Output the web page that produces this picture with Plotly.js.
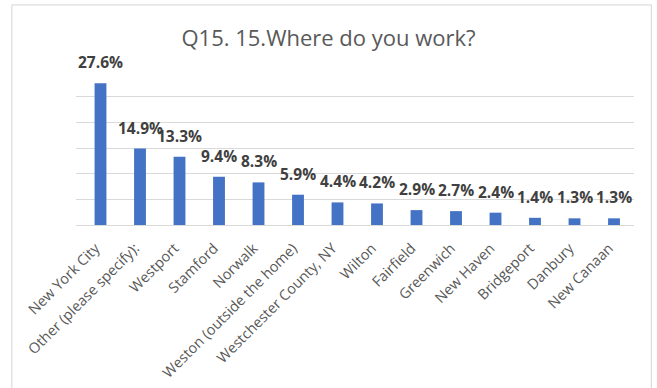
<!DOCTYPE html>
<html>
<head>
<meta charset="utf-8">
<script src="https://cdn.plot.ly/plotly-3.0.1.min.js"></script>
<style>html,body{margin:0;padding:0;background:#fff;}#chart{width:657px;height:388px;}</style>
</head>
<body>
<div id="chart"></div>
<script>
const categories = ["New York City", "Other (please specify):", "Westport", "Stamford", "Norwalk",
  "Weston (outside the home)", "Westchester County, NY", "Wilton", "Fairfield", "Greenwich",
  "New Haven", "Bridgeport", "Danbury", "New Canaan"];
const shares = [0.276, 0.149, 0.133, 0.094, 0.083, 0.059, 0.044, 0.042, 0.029, 0.027, 0.024, 0.014, 0.013, 0.013];
const chartTitle = "Q15. 15.Where do you work?";

const font = "Open Sans, Noto Sans, sans-serif";
const trace = {
  type: "bar",
  x: categories,
  y: shares,
  marker: {color: "#4472C4"},
  width: 0.3,
  hoverinfo: "skip"
};
const labels = categories.map((c, i) => ({
  x: c, y: shares[i], xref: "x", yref: "y",
  text: (shares[i] * 100).toFixed(1) + "%",
  showarrow: false, xanchor: "center", yanchor: "bottom", yshift: 8,
  font: {family: font, size: 15.5, color: "#404040", weight: "bold"}
}));
const layout = {
  width: 657, height: 388,
  margin: {l: 76, r: 23, t: 71, b: 163},
  paper_bgcolor: "#fff", plot_bgcolor: "#fff",
  title: {text: chartTitle, x: 0.5, xanchor: "center", y: 0.902, yanchor: "middle",
          font: {family: font, size: 22, color: "#595959"}},
  showlegend: false,
  xaxis: {tickangle: -45, tickfont: {family: font, size: 14.5, color: "#595959"},
          showgrid: false, showline: false, ticks: "", ticklabelstandoff: 11, ticklabelshift: -5,
          automargin: false, fixedrange: true},
  yaxis: {range: [0, 0.30], dtick: 0.05, showticklabels: false, showgrid: true,
          gridcolor: "#D9D9D9", gridwidth: 1, zeroline: true, zerolinecolor: "#D9D9D9",
          zerolinewidth: 1, ticks: "", automargin: false, fixedrange: true},
  annotations: labels,
  shapes: [{type: "rect", xref: "paper", yref: "paper", x0: -0.115, x1: 1.031, y0: -1.2, y1: 1.429,
            line: {color: "#D4D4D4", width: 1}, fillcolor: "rgba(0,0,0,0)", layer: "below"}]
};
Plotly.newPlot("chart", [trace], layout, {displayModeBar: false, staticPlot: true});
</script>
</body>
</html>
